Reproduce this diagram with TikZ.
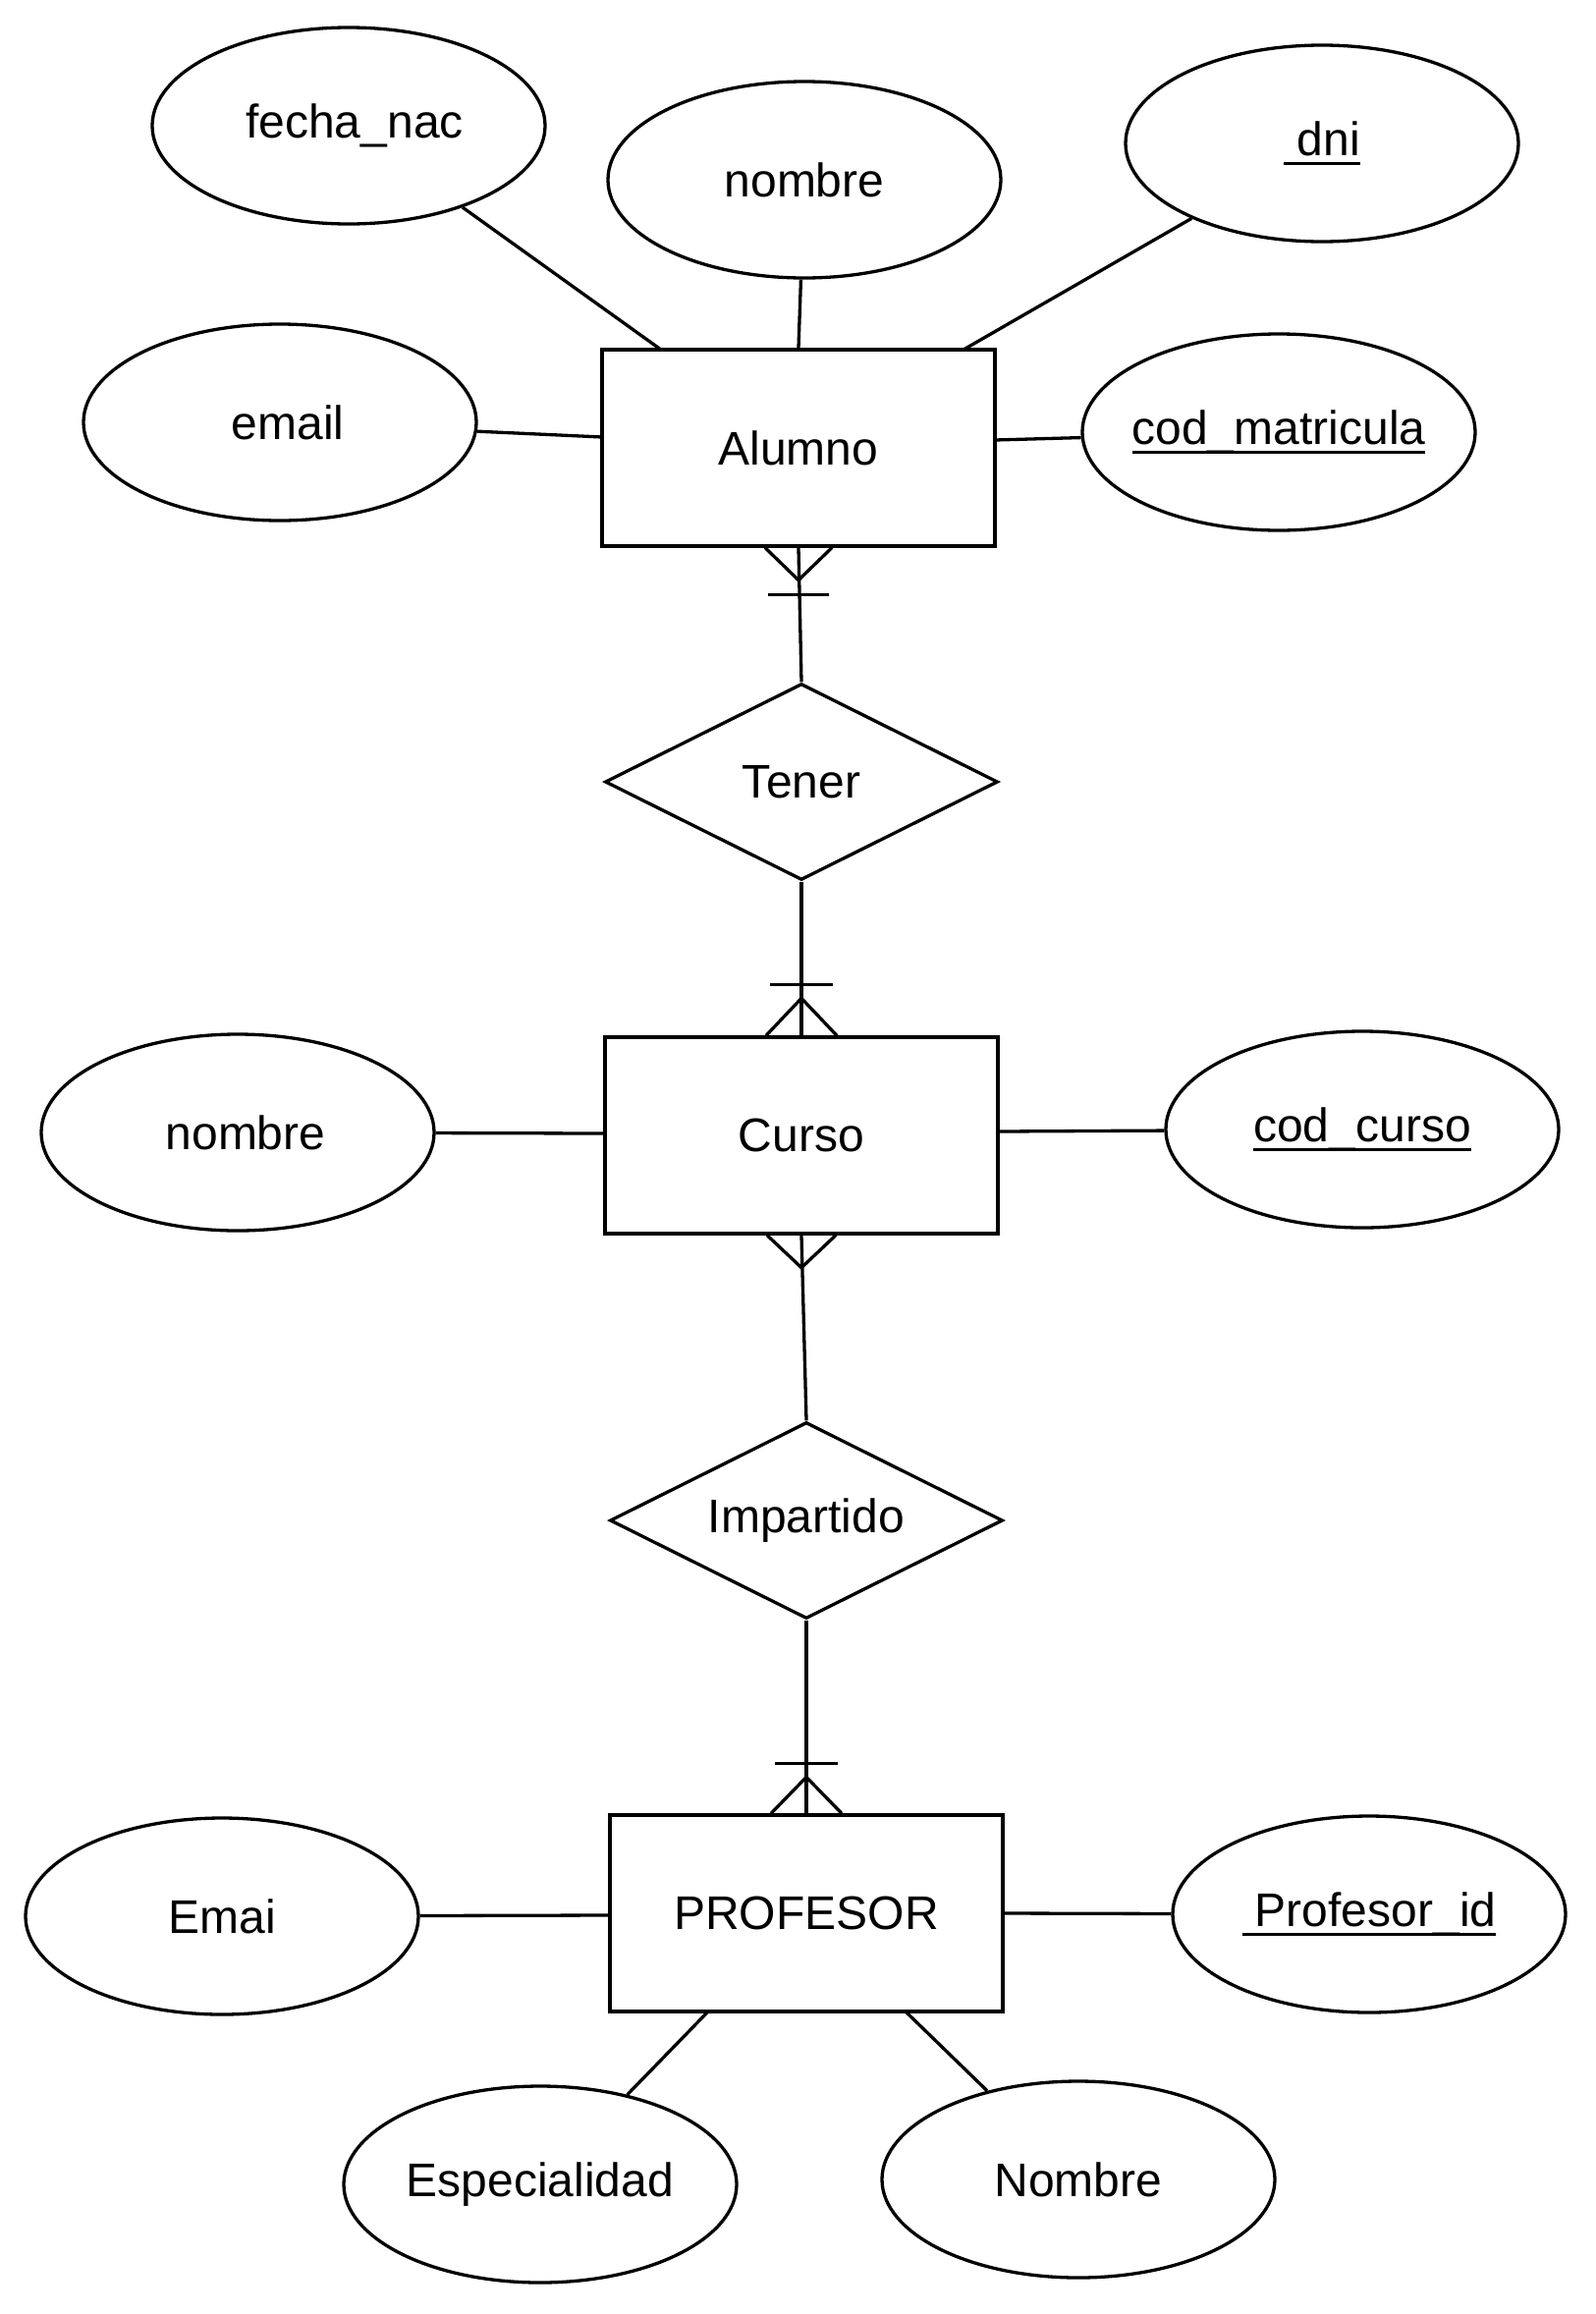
\documentclass[tikz,border=0pt]{standalone}
\usepackage{fontspec}
\setmainfont{Liberation Sans}
\usetikzlibrary{shapes.geometric}
\newcommand\ulx[1]{\setbox0=\hbox{#1}\leavevmode\rlap{\rule[-5pt]{\wd0}{1.5pt}}\box0}
\begin{document}
\begin{tikzpicture}[x=0.5pt,y=-0.5pt, line width=1.65pt,
  lbl/.style={font=\fontsize{24}{28}\selectfont},
  ent/.style={lbl, draw, rectangle, minimum width=200pt, minimum height=100pt, inner sep=0pt},
  attr/.style={lbl, draw, ellipse, minimum width=200pt, minimum height=100pt, inner sep=0pt},
  rel/.style={lbl, draw, diamond, aspect=2, minimum width=200pt, minimum height=100pt, inner sep=0pt}]
\useasboundingbox (0,0) rectangle (1624,2356);

% entities
\node[ent] (alumno) at (813,456) {Alumno};
\node[ent] (curso) at (816,1156) {Curso};
\node[ent] (profesor) at (821,1948) {PROFESOR};

% relationships
\node[rel] (tener) at (816,796) {Tener};
\node[rel] (impartido) at (821,1548) {Impartido};

% attributes
\node[attr] (fecha) at (355,128) {\hspace*{6pt}fecha\_nac};
\node[attr] (nombreA) at (819,183) {nombre};
\node[attr] (dni) at (1346,146) {\ulx{\ dni}};
\node[attr] (email) at (285,430) {\hspace*{8pt}email};
\node[attr, inner xsep=-12pt] (codmat) at (1302,440) {\ulx{cod\_matricula}};
\node[attr] (nombreC) at (242,1153) {\hspace*{8pt}nombre};
\node[attr] (codcurso) at (1387,1150) {\ulx{cod\_curso}};
\node[attr] (emai) at (226,1951) {Emai};
\node[attr] (profid) at (1394,1949) {\ulx{\ Profesor\_id}};
\node[attr] (esp) at (550,2224) {Especialidad};
\node[attr] (nombreP) at (1098,2219) {Nombre};

% attachment points on entity borders
\coordinate (a1) at (673,356);
\coordinate (a2) at (981,356);
\coordinate (a3) at (613,445);
\coordinate (a4) at (1013,448);
\coordinate (c1) at (616,1154);
\coordinate (c2) at (1017,1152);
\coordinate (p1) at (620,1950);
\coordinate (p2) at (1022,1948);
\coordinate (p3) at (721,2048);
\coordinate (p4) at (922,2048);

% attribute links
\draw (fecha) -- (a1);
\draw (nombreA) -- (alumno.north);
\draw (dni) -- (a2);
\draw (email) -- (a3);
\draw (codmat) -- (a4);
\draw (nombreC) -- (c1);
\draw (codcurso) -- (c2);
\draw (emai) -- (p1);
\draw (profid) -- (p2);
\draw (esp) -- (p3);
\draw (nombreP) -- (p4);

% relationship links
\draw (alumno.south) -- (tener.north);
\draw (tener.south) -- (curso.north);
\draw (curso.south) -- (impartido.north);
\draw (impartido.south) -- (profesor.north);

% crow's feet
% Alumno bottom: many + one bar
\draw ([xshift=-17pt]alumno.south) -- ([yshift=-16.5pt]alumno.south) -- ([xshift=17pt]alumno.south);
\draw ([xshift=-15.5pt,yshift=-24pt]alumno.south) -- ([xshift=15.5pt,yshift=-24pt]alumno.south);
% Curso top
\draw ([xshift=-18pt]curso.north) -- ([yshift=19pt]curso.north) -- ([xshift=18pt]curso.north);
\draw ([xshift=-16pt,yshift=26pt]curso.north) -- ([xshift=16pt,yshift=26pt]curso.north);
% Curso bottom (no bar)
\draw ([xshift=-17.5pt]curso.south) -- ([yshift=-16.5pt]curso.south) -- ([xshift=17.5pt]curso.south);
% PROFESOR top
\draw ([xshift=-18pt]profesor.north) -- ([yshift=18.5pt]profesor.north) -- ([xshift=18pt]profesor.north);
\draw ([xshift=-16pt,yshift=25.5pt]profesor.north) -- ([xshift=16pt,yshift=25.5pt]profesor.north);
\end{tikzpicture}
\end{document}
